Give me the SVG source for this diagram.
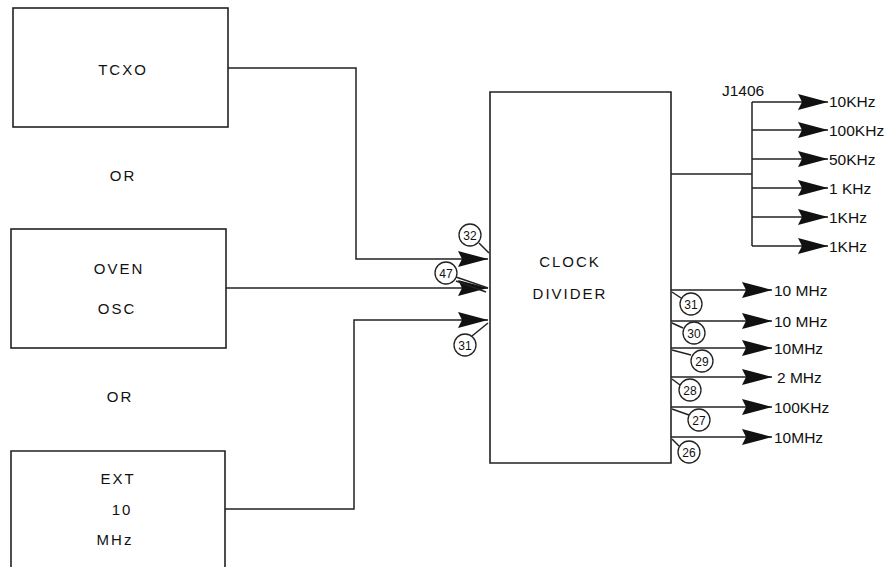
<svg xmlns="http://www.w3.org/2000/svg" width="894" height="567" viewBox="0 0 894 567">
<style>
.box{fill:none;stroke:#222;stroke-width:1.6}
.ln{fill:none;stroke:#222;stroke-width:1.5}
.lbl{font-family:"Liberation Sans",Arial,sans-serif;font-size:15px;fill:#111;letter-spacing:2px}
.out{font-family:"Liberation Sans",Arial,sans-serif;font-size:15.5px;fill:#111}
.tag circle{fill:#fff;stroke:#222;stroke-width:1.3}
.tag text{font-family:"Liberation Sans",Arial,sans-serif;font-size:12px;fill:#111;text-anchor:middle}
</style>
<defs>
<marker id="ah" viewBox="0 -8 30 16" refX="30" refY="0" markerWidth="30" markerHeight="16" markerUnits="userSpaceOnUse" orient="auto">
<path d="M0,-8 L30,0 L0,8 L4,0 Z" fill="#111"/>
</marker>
</defs>
<rect width="894" height="567" fill="#fff"/>
<g id="tcxo"><rect class="box" x="13" y="8" width="215" height="119"/><text class="lbl" x="123" y="75" text-anchor="middle">TCXO</text></g>
<g id="or1"><text class="lbl" x="123" y="181" text-anchor="middle">OR</text></g>
<g id="oven"><rect class="box" x="11" y="229" width="215" height="119"/><text class="lbl" x="119" y="274" text-anchor="middle">OVEN</text><text class="lbl" x="117" y="314" text-anchor="middle">OSC</text></g>
<g id="or2"><text class="lbl" x="120" y="402" text-anchor="middle">OR</text></g>
<g id="ext"><path class="box" d="M11,570 V451 H225 V570"/><text class="lbl" x="118" y="484" text-anchor="middle">EXT</text><text class="lbl" x="122" y="515" text-anchor="middle">10</text><text class="lbl" x="115" y="545" text-anchor="middle">MHz</text></g>
<g id="clock"><path class="box" d="M490,92 H671 V463 H490 Z"/><text class="lbl" x="570" y="267" text-anchor="middle">CLOCK</text><text class="lbl" x="570" y="299" text-anchor="middle">DIVIDER</text></g>
<g id="j1406"><text class="out" x="722" y="96">J1406</text></g>
<g id="connectors">
<path class="ln" d="M228,68 H356 V259 H488" marker-end="url(#ah)"/>
<path class="ln" d="M226,288 H488" marker-end="url(#ah)"/>
<path class="ln" d="M225,509 H354 V320 H488" marker-end="url(#ah)"/>
<path class="ln" d="M671,174 H752"/>
<path class="ln" d="M752,102 V246"/>
<path class="ln" d="M752,102 H828" marker-end="url(#ah)"/>
<path class="ln" d="M752,130 H828" marker-end="url(#ah)"/>
<path class="ln" d="M752,159 H828" marker-end="url(#ah)"/>
<path class="ln" d="M752,188 H828" marker-end="url(#ah)"/>
<path class="ln" d="M752,217 H828" marker-end="url(#ah)"/>
<path class="ln" d="M752,246 H828" marker-end="url(#ah)"/>
<path class="ln" d="M671,290 H772" marker-end="url(#ah)"/>
<path class="ln" d="M671,321 H772" marker-end="url(#ah)"/>
<path class="ln" d="M671,348 H772" marker-end="url(#ah)"/>
<path class="ln" d="M671,377 H772" marker-end="url(#ah)"/>
<path class="ln" d="M671,407 H772" marker-end="url(#ah)"/>
<path class="ln" d="M671,437 H772" marker-end="url(#ah)"/>
<path class="ln" d="M479,243 L489,253"/>
<path class="ln" d="M456,277 L488,288 M456,281 L486,292"/>
<path class="ln" d="M472,336 L488,323"/>
<path class="ln" d="M672,292 L681,298"/>
<path class="ln" d="M672,323 L683,328"/>
<path class="ln" d="M672,350 L691,355"/>
<path class="ln" d="M672,379 L680,385"/>
<path class="ln" d="M672,409 L689,415"/>
<path class="ln" d="M672,439 L679,446"/>
</g>
<g id="tags" class="tag">
<g><circle cx="470" cy="235" r="11"/><text x="470" y="239.5">32</text></g>
<g><circle cx="446" cy="273" r="11"/><text x="446" y="277.5">47</text></g>
<g><circle cx="465" cy="345" r="11"/><text x="465" y="349.5">31</text></g>
<g><circle cx="691" cy="304" r="11"/><text x="691" y="308.5">31</text></g>
<g><circle cx="694" cy="333" r="11"/><text x="694" y="337.5">30</text></g>
<g><circle cx="702" cy="361" r="11"/><text x="702" y="365.5">29</text></g>
<g><circle cx="690" cy="390" r="11"/><text x="690" y="394.5">28</text></g>
<g><circle cx="699" cy="420" r="11"/><text x="699" y="424.5">27</text></g>
<g><circle cx="689" cy="452" r="11"/><text x="689" y="456.5">26</text></g>
</g>
<g id="outlabels" class="out">
<text x="829" y="107">10KHz</text>
<text x="829" y="136">100KHz</text>
<text x="829" y="165">50KHz</text>
<text x="829" y="194">1 KHz</text>
<text x="829" y="223">1KHz</text>
<text x="829" y="252">1KHz</text>
<text x="774" y="296">10 MHz</text>
<text x="774" y="327">10 MHz</text>
<text x="774" y="354">10MHz</text>
<text x="777" y="383">2 MHz</text>
<text x="774" y="413">100KHz</text>
<text x="774" y="443">10MHz</text>
</g>
</svg>
